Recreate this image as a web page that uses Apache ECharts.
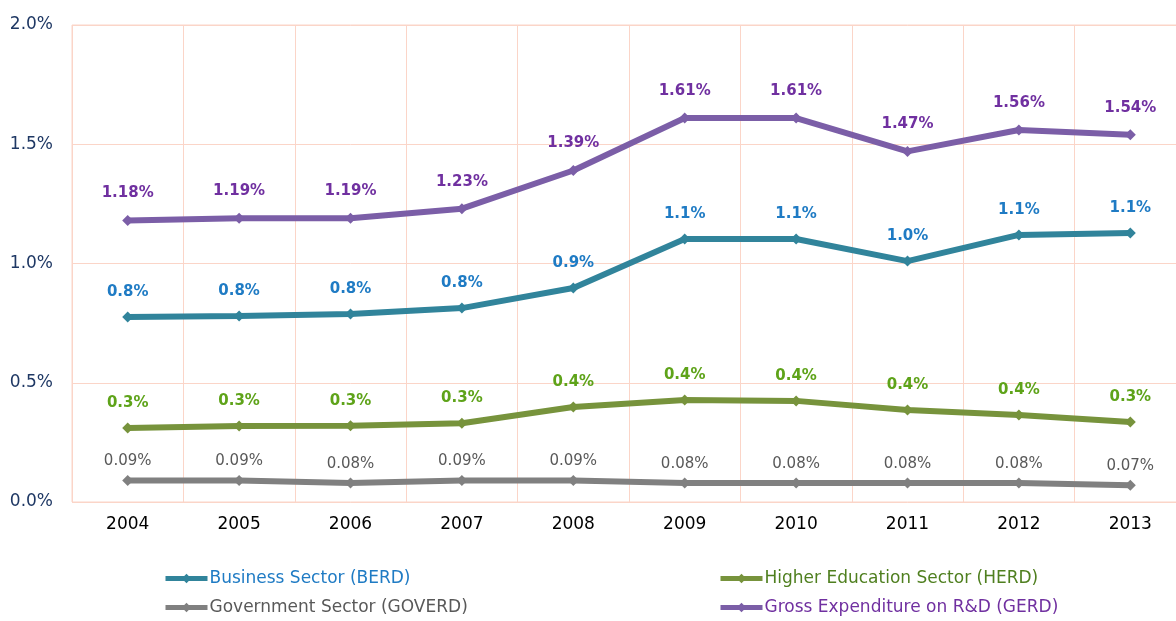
<!DOCTYPE html>
<html lang="en">
<head>
    <meta charset="utf-8">
    <title>R&amp;D expenditure by sector</title>
    <script src="https://cdn.jsdelivr.net/npm/echarts@6/dist/echarts.min.js"></script>
    <style type="text/css">
    html, body { margin: 0; padding: 0; background: #fff; overflow: hidden; }
    /* the plot runs a little past the right edge of the window, as in the original */
    #chart { width: 1190px; height: 621px; }
    </style>
</head>
<body>
    <div id="chart"></div>
    <script type="text/javascript">
    // data (% of GDP)
    var years = ['2004', '2005', '2006', '2007', '2008', '2009', '2010', '2011', '2012', '2013'];
    var berd = [0.776, 0.78, 0.788, 0.813, 0.897, 1.103, 1.103, 1.01, 1.12, 1.128];
    var herd = [0.31, 0.319, 0.32, 0.33, 0.398, 0.428, 0.424, 0.386, 0.365, 0.335];
    var goverd = [0.09, 0.09, 0.08, 0.09, 0.09, 0.08, 0.08, 0.08, 0.08, 0.07];
    var gerd = [1.18, 1.19, 1.19, 1.23, 1.39, 1.61, 1.61, 1.47, 1.56, 1.54];

    var FONT = 'DejaVu Sans';
    var gridColor = '#fbd5c8';

    function makeSeries(name, data, lineColor, labelColor, digits, dist, weight) {
        return {
            name: name,
            type: 'line',
            data: data,
            symbol: 'diamond',
            symbolSize: 11,
            itemStyle: { color: lineColor },
            lineStyle: { color: lineColor, width: 6 },
            label: {
                show: true,
                position: 'top',
                distance: dist,
                color: labelColor,
                fontFamily: FONT,
                fontSize: 15,
                fontWeight: weight,
                formatter: function (p) { return p.value.toFixed(digits) + '%'; }
            }
        };
    }

    function legendAt(name, left, top, color) {
        return {
            data: [name],
            left: left,
            top: top,
            padding: 0,
            itemWidth: 42,
            itemHeight: 12,
            itemGap: 0,
            lineStyle: { width: 5 },
            textStyle: { color: color, fontFamily: FONT, fontSize: 17, padding: [0, 0, 0, -3] }
        };
    }

    var chart = echarts.init(document.getElementById('chart'), null, { renderer: 'canvas' });
    chart.setOption({
        backgroundColor: '#ffffff',
        animation: false,
        grid: { left: 72, top: 25, right: 4, bottom: 119, show: true, borderColor: gridColor, borderWidth: 1 },
        legend: [
            legendAt('Business Sector (BERD)', 163, 570, '#1f7bc4'),
            legendAt('Higher Education Sector (HERD)', 718, 570, '#4f7f1f'),
            legendAt('Government Sector (GOVERD)', 163, 599, '#595959'),
            legendAt('Gross Expenditure on R&D (GERD)', 718, 599, '#7030a0')
        ],
        xAxis: {
            type: 'category',
            data: years,
            boundaryGap: true,
            axisLine: { show: false },
            axisTick: { show: false },
            splitLine: { show: true, lineStyle: { color: gridColor, width: 1 } },
            axisLabel: { color: '#000', fontFamily: FONT, fontSize: 17, margin: 14 }
        },
        yAxis: {
            type: 'value',
            min: 0,
            max: 2,
            interval: 0.5,
            axisLine: { show: false },
            axisTick: { show: false },
            splitLine: { show: true, lineStyle: { color: gridColor, width: 1 } },
            axisLabel: {
                color: '#1f3864',
                fontFamily: FONT,
                fontSize: 17,
                margin: 19,
                formatter: function (v) { return v.toFixed(1) + '%'; }
            }
        },
        series: [
            makeSeries('Business Sector (BERD)', berd, '#31849b', '#1f7bc4', 1, 12, 'bold'),
            makeSeries('Higher Education Sector (HERD)', herd, '#77933c', '#5ea319', 1, 12, 'bold'),
            makeSeries('Government Sector (GOVERD)', goverd, '#808080', '#595959', 2, 6, 'normal'),
            makeSeries('Gross Expenditure on R&D (GERD)', gerd, '#7b5ea7', '#7030a0', 2, 14, 'bold')
        ]
    });
    </script>
</body>
</html>
